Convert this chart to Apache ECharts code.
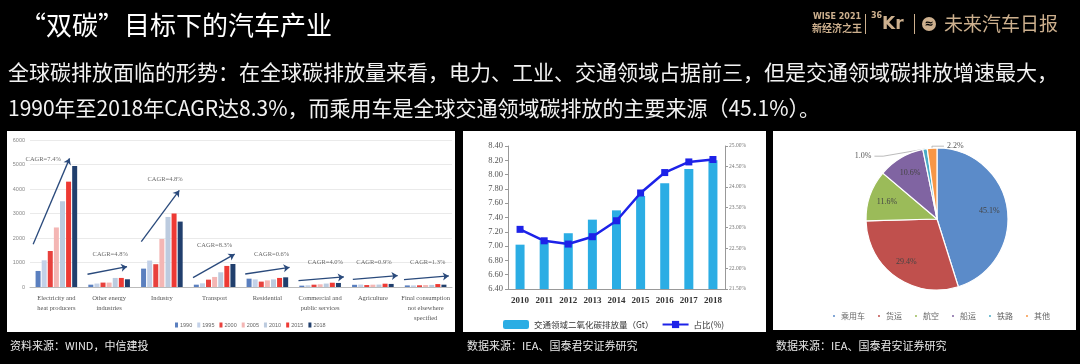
<!DOCTYPE html>
<html><head><meta charset="utf-8">
<script src="https://cdn.jsdelivr.net/npm/echarts@6/dist/echarts.min.js"></script>
<style>html,body{margin:0;padding:0;background:#000;}#c{width:1080px;height:364px;}</style>
</head><body><div id="c"></div>
<script>
// ---- Panel 1 data: CO2 emissions by sector (Mt)
const categories = ['Electricity and\nheat producers','Other energy\nindustries','Industry','Transport','Residential','Commercial and\npublic services','Agriculture','Final consumption\nnot elsewhere\nspecified'];
const years = ['1990','1995','2000','2005','2010','2015','2018'];
const v1990 = [655, 95, 750, 95, 340, 55, 90, 65];
const v1995 = [1090, 140, 1080, 150, 310, 70, 100, 65];
const v2000 = [1470, 180, 930, 300, 220, 95, 80, 70];
const v2005 = [2430, 180, 1960, 410, 270, 110, 95, 80];
const v2010 = [3500, 370, 2860, 600, 310, 140, 100, 85];
const v2015 = [4300, 370, 3000, 860, 370, 175, 135, 120];
const v2018 = [4940, 315, 2670, 940, 395, 165, 125, 95];
const yearValues = [v1990, v1995, v2000, v2005, v2010, v2015, v2018];
const cagrText = ['CAGR=7.4%','CAGR=4.8%','CAGR=4.8%','CAGR=8.3%','CAGR=0.6%','CAGR=4.0%','CAGR=0.9%','CAGR=1.3%'];
// annotation arrows in data units (x: category position 0..8, y: Mt)
const arrowFrom = [[0.06,1745],[1.09,520],[2.11,1855],[3.09,380],[4.08,530],[5.09,260],[6.12,315],[7.09,300]];
const arrowTo   = [[0.75,5250],[1.84,830],[2.83,3940],[3.88,1340],[4.92,800],[5.95,410],[6.97,465],[7.94,450]];
const cagrAt    = [[0.25,5210],[1.52,1340],[2.56,4400],[3.5,1700],[4.58,1340],[5.6,1020],[6.52,1020],[7.54,1020]];
const y1Ticks = [0, 6000, 1000];

// ---- Panel 2 data
const tYears = ['2010','2011','2012','2013','2014','2015','2016','2017','2018'];
const emissions = [7.02, 7.08, 7.18, 7.37, 7.50, 7.70, 7.88, 8.08, 8.20];
const share = [22.96, 22.68, 22.60, 22.78, 23.17, 23.85, 24.35, 24.61, 24.67];
const barName = '交通领域二氧化碳排放量（Gt）';
const lineName = '占比(%)';

// ---- Panel 3 data
const modes = ['乘用车','货运','航空','船运','铁路','其他'];
const modeShare = [45.1, 29.4, 11.6, 10.6, 1.0, 2.2];

// ---- Texts
const titleText = '“双碳”目标下的汽车产业';
const bodyLine1 = '全球碳排放面临的形势：在全球碳排放量来看，电力、工业、交通领域占据前三，但是交通领域碳排放增速最大，';
const bodyLine2 = '1990年至2018年CAGR达8.3%，而乘用车是全球交通领域碳排放的主要来源（45.1%）。';
const src1 = '资料来源：WIND，中信建投';
const src2 = '数据来源：IEA、国泰君安证券研究';

const yearColors = ['#5a7fbf','#c3d1e8','#e8413d','#f4b6b4','#bccbdf','#ee3a34','#213f6d'];
const pieColors = ['#5b8bc9','#c0504d','#9bbb59','#8064a2','#4bacc6','#f79646'];
const CJK = '"Noto Sans CJK SC", sans-serif';
const SERIF = '"Liberation Serif", "DejaVu Serif", serif';
const gold = '#cdb08e';

const chart = echarts.init(document.getElementById('c'));

const series = [];
years.forEach((y, i) => {
  series.push({
    name: y, type: 'bar', xAxisIndex: 0, yAxisIndex: 0,
    data: yearValues[i], barWidth: 5, barGap: '22%',
    itemStyle: { color: yearColors[i] }
  });
});
series.push({
  type: 'scatter', xAxisIndex: 1, yAxisIndex: 0, symbolSize: 0, silent: true,
  data: cagrAt.map((p, i) => [p[0], p[1], cagrText[i]]),
  label: { show: true, position: 'inside', formatter: p => p.value[2], fontFamily: SERIF, fontSize: 6.5, color: '#444' },
  markLine: {
    silent: true, symbol: ['none', 'arrow'], symbolSize: 6,
    lineStyle: { color: '#2a4a7c', width: 1.3, type: 'solid' },
    label: { show: false },
    data: arrowFrom.map((a, i) => [{ coord: a }, { coord: arrowTo[i] }])
  }
});
series.push({
  name: barName, type: 'bar', xAxisIndex: 2, yAxisIndex: 1,
  data: emissions, barWidth: 9, itemStyle: { color: '#2bade4' }
});
series.push({
  name: lineName, type: 'line', xAxisIndex: 2, yAxisIndex: 2,
  data: share, symbol: 'rect', symbolSize: 7,
  lineStyle: { color: '#1d22e8', width: 2.5 }, itemStyle: { color: '#1d22e8' }
});
series.push({
  type: 'pie', center: [937, 219], radius: [0, 71], startAngle: 90, clockwise: true,
  data: modes.map((m, i) => ({ name: m, value: modeShare[i],
    label: { show: i >= 4 }, labelLine: { show: i >= 4 } })),
  itemStyle: { borderColor: '#fff', borderWidth: 1.2 },
  color: pieColors,
  label: { position: 'outside', formatter: p => p.value.toFixed(1) + '%', fontFamily: SERIF, fontSize: 8, color: '#555', distanceToLabelLine: 3 },
  labelLine: { length: 2, length2: 28, lineStyle: { color: '#aaa', width: 0.8 } },
  labelLayout: function (params) {
    if (params.dataIndex === 5 && params.labelLinePoints) {
      const pts = params.labelLinePoints;
      const p1 = pts[1], p2 = pts[2];
      const newP2 = [p1[0] + 12, p2[1]];
      const newLeft = newP2[0] + 3;
      return { dx: newLeft - params.labelRect.x, labelLinePoints: [pts[0], p1, newP2] };
    }
  },
  emphasis: { disabled: true }
});
// overlay (transparent) ring to place inner percentage labels
series.push({
  type: 'pie', center: [937, 219], radius: [36, 64], startAngle: 90, clockwise: true, silent: true,
  data: modes.map((m, i) => ({ name: m, value: modeShare[i], label: { show: i < 4 } })),
  itemStyle: { color: 'rgba(0,0,0,0)', borderWidth: 0 },
  label: { position: 'inside', formatter: p => p.value.toFixed(1) + '%', fontFamily: SERIF, fontSize: 8, color: '#444' },
  labelLine: { show: false },
  emphasis: { disabled: true }
});

const option = {
  backgroundColor: '#000',
  animation: false,
  color: pieColors,
  grid: [
    { left: 30, right: 628, top: 140, bottom: 77 },
    { left: 508, right: 355, top: 146, bottom: 75 }
  ],
  xAxis: [
    { type: 'category', gridIndex: 0, data: categories,
      axisLine: { lineStyle: { color: '#bbb' } }, axisTick: { show: false },
      axisLabel: { interval: 0, fontFamily: SERIF, fontSize: 6.5, lineHeight: 10, color: '#555', margin: 6 } },
    { type: 'value', gridIndex: 0, min: 0, max: 8, show: false },
    { type: 'category', gridIndex: 1, data: tYears,
      axisLine: { lineStyle: { color: '#999' } }, axisTick: { show: false },
      axisLabel: { fontFamily: SERIF, fontSize: 9, fontWeight: 'bold', color: '#333', margin: 7 } }
  ],
  yAxis: [
    { type: 'value', gridIndex: 0, min: y1Ticks[0], max: y1Ticks[1], interval: y1Ticks[2],
      axisLine: { show: false }, axisTick: { show: false },
      axisLabel: { formatter: v => String(v), fontSize: 5.5, color: '#888', margin: 5 },
      splitLine: { lineStyle: { color: '#e4e4e4', width: 0.8 } } },
    { type: 'value', gridIndex: 1, min: 6.4, max: 8.4, interval: 0.2, position: 'left',
      axisLine: { show: true, lineStyle: { color: '#999' } },
      axisTick: { show: true, length: 3, lineStyle: { color: '#999' } },
      axisLabel: { formatter: v => v.toFixed(2), fontFamily: SERIF, fontSize: 8.5, color: '#555', margin: 5 },
      splitLine: { show: false } },
    { type: 'value', gridIndex: 1, min: 21.5, max: 25, interval: 0.5, position: 'right',
      axisLine: { show: true, lineStyle: { color: '#999' } },
      axisTick: { show: true, length: 3, lineStyle: { color: '#999' } },
      axisLabel: { formatter: v => v.toFixed(2) + '%', fontFamily: SERIF, fontSize: 5.5, color: '#777', margin: 4 },
      splitLine: { show: false } }
  ],
  legend: [
    { data: years, left: 170, top: 317, itemWidth: 3, itemHeight: 5, itemGap: 5, icon: 'rect',
      textStyle: { fontSize: 5.5, color: '#666', padding: [0, 0, 0, -3] } },
    { data: [barName, lineName], left: 498, top: 315, itemWidth: 26, itemHeight: 9, itemGap: 8,
      textStyle: { fontSize: 8.5, color: '#333', fontFamily: CJK } },
    { data: modes, left: 826, top: 307, itemWidth: 4, itemHeight: 4, itemGap: 11, icon: 'circle',
      textStyle: { fontSize: 8, color: '#666', fontFamily: CJK } }
  ],
  series: series,
  graphic: [
    { type: 'rect', z: -10, shape: { x: 7, y: 131, width: 448, height: 201 }, style: { fill: '#fff' } },
    { type: 'rect', z: -10, shape: { x: 463, y: 131, width: 303, height: 201 }, style: { fill: '#fff' } },
    { type: 'rect', z: -10, shape: { x: 773, y: 131, width: 303, height: 199 }, style: { fill: '#fff' } },
    { type: 'text', style: { text: titleText, x: 20, y: 25, fill: '#fff', font: '26px ' + CJK, textVerticalAlign: 'middle' } },
    { type: 'text', style: { text: bodyLine1, x: 8, y: 72, fill: '#f2f2f2', font: '21px ' + CJK, textVerticalAlign: 'middle' } },
    { type: 'text', style: { text: bodyLine2, x: 8, y: 108, fill: '#f2f2f2', font: '21px ' + CJK, textVerticalAlign: 'middle' } },
    { type: 'text', style: { text: src1, x: 10, y: 346, fill: '#e8e8e8', font: '11px ' + CJK, textVerticalAlign: 'middle' } },
    { type: 'text', style: { text: src2, x: 467, y: 346, fill: '#e8e8e8', font: '11px ' + CJK, textVerticalAlign: 'middle' } },
    { type: 'text', style: { text: src2, x: 776, y: 346, fill: '#e8e8e8', font: '11px ' + CJK, textVerticalAlign: 'middle' } },
    // logo
    { type: 'text', style: { text: 'WISE 2021', x: 837, y: 17, fill: gold, font: 'bold 8px "DejaVu Sans"', textAlign: 'center', textVerticalAlign: 'middle' } },
    { type: 'text', style: { text: '新经济之王', x: 837, y: 28, fill: gold, font: 'bold 10px ' + CJK, textAlign: 'center', textVerticalAlign: 'middle' } },
    { type: 'rect', shape: { x: 865, y: 14, width: 1, height: 20 }, style: { fill: gold } },
    { type: 'text', style: { text: '36', x: 871, y: 16, fill: gold, font: 'bold 8px "DejaVu Sans"', textVerticalAlign: 'middle' } },
    { type: 'text', style: { text: 'Kr', x: 882, y: 25, fill: gold, font: 'bold 17px "DejaVu Sans"', textVerticalAlign: 'middle' } },
    { type: 'rect', shape: { x: 914, y: 14, width: 1, height: 20 }, style: { fill: gold } },
    { type: 'circle', shape: { cx: 929, cy: 24, r: 7 }, style: { fill: gold } },
    { type: 'text', style: { text: '≈', x: 929, y: 24, fill: '#000', font: 'bold 11px "DejaVu Sans"', textAlign: 'center', textVerticalAlign: 'middle' } },
    { type: 'text', style: { text: '未来汽车日报', x: 944, y: 24, fill: gold, font: '19px ' + CJK, textVerticalAlign: 'middle' } }
  ]
};
chart.setOption(option);
</script></body></html>
